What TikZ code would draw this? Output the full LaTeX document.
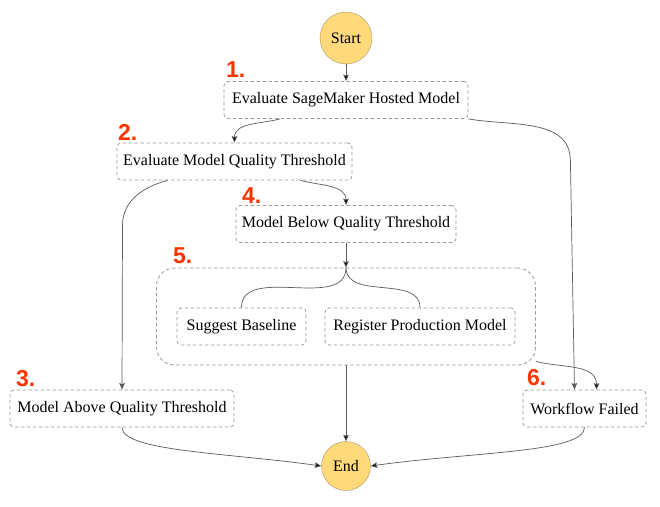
\documentclass[tikz,border=0pt]{standalone}
\usepackage{fontspec}
\setmainfont{Liberation Serif}
\newfontfamily\numfont{Liberation Sans}
\usetikzlibrary{arrows.meta, positioning}
\definecolor{termfill}{HTML}{FFD97A}
\definecolor{termline}{HTML}{A8976A}
\definecolor{boxline}{HTML}{9A9A9A}
\definecolor{flowline}{HTML}{5A5A5A}
\definecolor{numred}{HTML}{FF3300}

\begin{document}
\begin{tikzpicture}[x=1pt, y=-1pt]
			\tikzset {>={Stealth[length=6.5pt, width=5.5pt, inset=1pt]}, every node/.style={font=\fontsize{16}{19}\selectfont},
				task/.style={draw=boxline, line width=0.8pt, dash pattern=on 3.5pt off 2.5pt, rounded corners=4pt, minimum height=37, inner sep=0},
				term/.style={circle, draw=termline, fill=termfill, inner sep=0},
				num/.style={font=\numfont\bfseries\fontsize{23}{23}\selectfont, text=numred, anchor=base west, inner sep=0},
				flow/.style={draw=flowline, line width=0.7pt} }
			
			\useasboundingbox (0,0) rectangle (660,506);
			
			\node[term, minimum size=52] (start) at (346,38) {Start};
			\node[task, minimum width=244] (eval) at (346,100) {Evaluate SageMaker Hosted Model};
			\node[task, minimum width=235] (thr) at (234.5,161.5) {Evaluate Model Quality Threshold};
			\node[task, minimum width=220] (below) at (346,224) {Model Below Quality Threshold};
			\node[task, minimum width=379, minimum height=97, rounded corners=18pt] (par) at (346,316.5) {};
			\node[task, minimum width=129] (sugg) at (241.5,326.5) {Suggest Baseline};
			\node[task, minimum width=190] (reg) at (420,326.5) {Register Production Model};
			\node[task, minimum width=224] (above) at (122,408.5) {Model Above Quality Threshold};
			\node[task, minimum width=123] (failed) at (584.5,408.5) {Workflow Failed};
			\node[term, minimum size=49] (end) at (346,466) {End};
			
			\node[num] (n1) at (226,77) {1.};
			\node[num] (n2) at (118,140) {2.};
			\node[num] (n3) at (16,386) {3.};
			\node[num] (n4) at (242,203) {4.};
			\node[num] (n5) at (173,263) {5.};
			\node[num] (n6) at (527,385) {6.};
			
			\draw[flow]
				(start) edge[->] (eval)
				([xshift=-66]eval.south) edge[->, out=-165, in=90] (thr.north)
				([xshift=66]thr.south) edge[->, out=-15, in=90] (below.north)
				(below.south) edge[->] (par.north)
				(par.south) edge[->] (end)
				([yshift=4]par.south east) edge[->, out=-15, in=90] ([xshift=12]failed.north)
				(above.south) edge[->, out=-90, in=172, out looseness=0.3, in looseness=1.2] (end.west)
				(failed.south) edge[->, out=-90, in=8, out looseness=0.3, in looseness=1.2] (end.east)
				(par.north) edge[out=-90, in=90] (sugg.north)
				(par.north) edge[out=-90, in=90] (reg.north);
			\draw[flow, ->] (eval.south east) to[out=-10, in=90] ++(102,42) -- ([xshift=-10]failed.north);
			\draw[flow, ->] ([xshift=-67]thr.south) to[out=-165, in=90] ++(-45,45) -- (above.north);
		\end{tikzpicture}
\end{document}
